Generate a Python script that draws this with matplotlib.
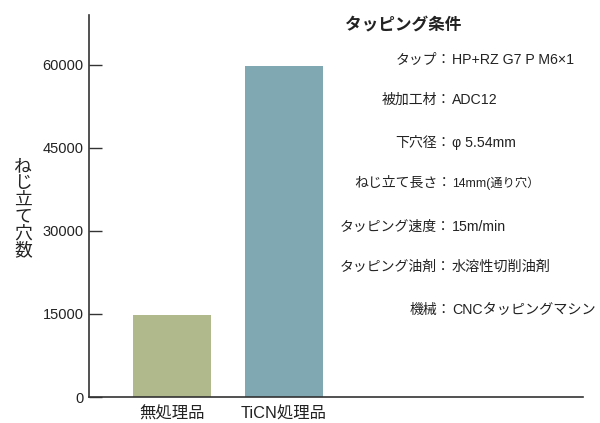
import matplotlib
matplotlib.use("Agg")
import matplotlib.pyplot as plt

plt.rcParams['font.family'] = ['Liberation Sans', 'Noto Sans CJK JP', 'DejaVu Sans']
JP = ['Noto Sans CJK JP', 'DejaVu Sans']

categories = ["無処理品", "TiCN処理品"]
values = [14800, 59700]
colors = ["#b0b98c", "#7fa8b3"]
yticks = [0, 15000, 30000, 45000, 60000]
ylabel = "ねじ立て穴数"
cond_title = "タッピング条件"
cond_labels = ["タップ", "被加工材", "下穴径", "ねじ立て長さ", "タッピング速度", "タッピング油剤", "機械"]
cond_values = ["HP+RZ G7 P M6×1", "ADC12", "φ 5.54mm", "14mm(通り穴）", "15m/min", "水溶性切削油剤", "CNCタッピングマシン"]

W, H = 600, 423
fig = plt.figure(figsize=(6.0, 4.23), dpi=100)
ax = fig.add_axes([89 / W, 1 - 397 / H, (583 - 89) / W, (397 - 15) / H])

x = list(range(len(categories)))
ax.bar(x, values, width=0.70, color=colors, zorder=2)
ax.set_xlim(-0.741, 3.67)
ax.set_ylim(0, 69000)
ax.set_yticks(yticks)
ax.set_yticklabels([str(v) for v in yticks], fontsize=10.5, color="#222222")
ax.set_xticks(x)
ax.set_xticklabels(categories, fontsize=11.8, color="#222222")
ax.tick_params(axis='y', direction='in', length=9.4, width=1.0, color="#333333", pad=4)
ax.tick_params(axis='x', length=0, pad=7)
for s in ['top', 'right']:
    ax.spines[s].set_visible(False)
for s in ['left', 'bottom']:
    ax.spines[s].set_color("#333333")
    ax.spines[s].set_linewidth(1.2)

fig.text(23 / W, 1 - 208 / H, "\n".join(ylabel), ha='center', va='center',
         fontsize=12.8, linespacing=0.92, color="#222222", family=JP)

fig.text(345 / W, 1 - 25 / H, cond_title, ha='left', va='center',
         fontsize=12, fontweight='bold', color="#222222", family=JP)

ys = [60, 100, 143, 183, 227, 267, 310]
colon_x = 451
val_x = 452
for lab, val, yy in zip(cond_labels, cond_values, ys):
    fig.text(colon_x / W, 1 - yy / H, lab + "：", ha='right', va='center',
             fontsize=10, color="#222222", family=JP)
    fs = 8.8 if "通り" in val else 10.2
    fig.text(val_x / W, 1 - yy / H, val, ha='left', va='center',
             fontsize=fs, color="#222222")

fig.savefig("out.png", dpi=100)
